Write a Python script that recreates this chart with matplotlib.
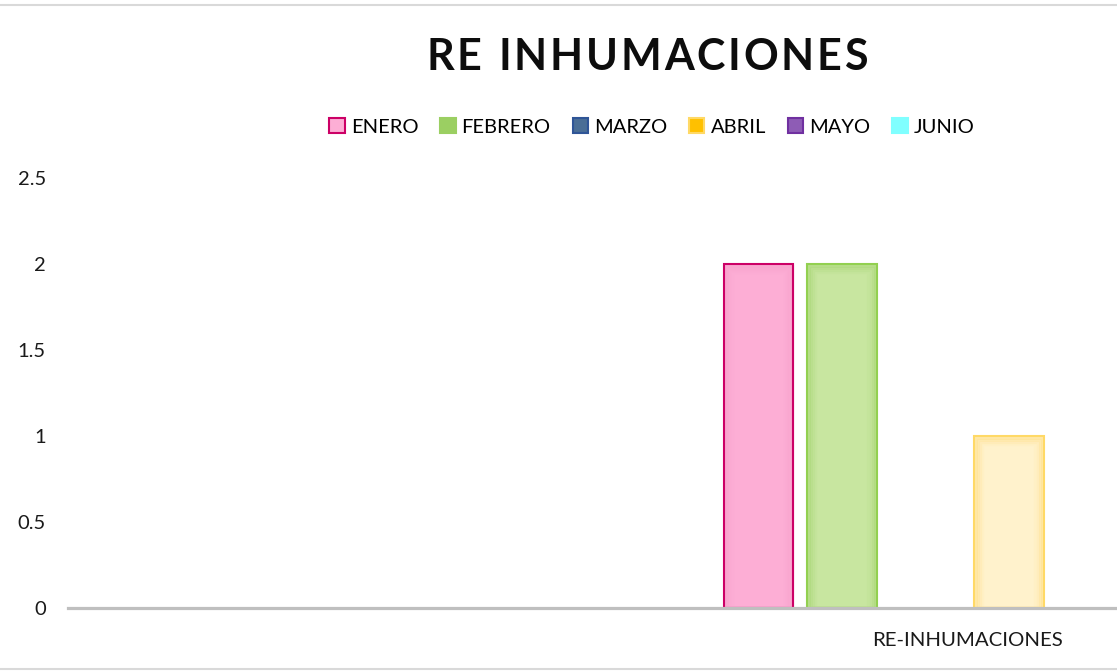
import matplotlib
matplotlib.use("Agg")
import matplotlib.pyplot as plt
from matplotlib.patches import Patch
from matplotlib.lines import Line2D

categories = ["RE-INHUMACIONES"]
series = ["ENERO", "FEBRERO", "MARZO", "ABRIL", "MAYO", "JUNIO"]
values = [[2], [2], [0], [1], [0], [0]]
title = "RE INHUMACIONES"
yticks = [0, 0.5, 1, 1.5, 2, 2.5]

bar_face = ["#FDAED5", "#C8E6A0", "#4A6E96", "#FFF2CC", "#8E5CB5", "#80FFFF"]
bar_glow = ["#F9A2CC", "#A9D878", "#3A5E86", "#FFE08A", "#7E4CA5", "#60F0F0"]
bar_edge = ["#CC0066", "#92D050", "#2F5597", "#FFD966", "#7030A0", "#66F0F0"]
leg_face = ["#FDAED5", "#9BCF62", "#4A6E96", "#FFC000", "#8E5CB5", "#80FFFF"]
leg_edge = ["#CC0066", "#9BCF62", "#2F5597", "#FFD966", "#7030A0", "#80FFFF"]

plt.rcParams['font.family'] = ['Lato', 'DejaVu Sans']

W, H = 1117, 671
fig = plt.figure(figsize=(W / 100, H / 100), dpi=100)

left, right = 68, 1866
y0, ytop = 608, 178
ax = fig.add_axes([left / W, (H - y0) / H, (right - left) / W, (y0 - ytop) / H])

step = 83.5 / (right - left)
width = 69.5 / (right - left)
n = len(series)
for i, s in enumerate(series):
    xs = [c + (i - (n - 1) / 2) * step for c in range(len(categories))]
    pos = [(x, v) for x, v in zip(xs, values[i]) if v > 0]
    if not pos:
        continue
    px = [p[0] for p in pos]
    pv = [p[1] for p in pos]
    ax.bar(px, pv, width=width, color=bar_face[i], edgecolor="none", zorder=2)
    # soft inner glow
    for k, a in enumerate([0.55, 0.35, 0.2, 0.1]):
        inset_x = (1.5 + 2.2 * k) / (right - left)
        inset_y = (1.5 + 2.2 * k) * 2.5 / (y0 - ytop)
        hs = [v - inset_y for v in pv]
        ax.bar(px, hs, width=width - 2 * inset_x, fill=False, edgecolor=bar_glow[i],
               linewidth=2.4, alpha=a, zorder=2)
    ax.bar(px, pv, width=width, fill=False, edgecolor=bar_edge[i],
           linewidth=1.5, zorder=3)

ax.set_xlim(-0.5, len(categories) - 0.5)
ax.set_ylim(0, 2.5)
ax.set_yticks(yticks)
ax.set_yticklabels([f"{v:g}" for v in yticks], fontsize=14.5, color="#1a1a1a")
ax.set_xticks(range(len(categories)))
ax.set_xticklabels(categories, fontsize=14.7, color="#1a1a1a")
ax.tick_params(axis='both', length=0)
ax.tick_params(axis='y', pad=16)
ax.tick_params(axis='x', pad=17)
for side in ["top", "right", "left"]:
    ax.spines[side].set_visible(False)
ax.spines["bottom"].set_color("#BFBFBF")
ax.spines["bottom"].set_linewidth(2.3)
ax.spines["bottom"].set_zorder(4)

# title with letter spacing: place characters one by one
renderer = fig.canvas.get_renderer()
tx0, tx1, ty = 426, 868, 57
chars = list(title)
widths = []
for ch in chars:
    t = fig.text(0, 0, ch if ch != " " else "I", fontsize=31, fontweight="bold")
    bb = t.get_window_extent(renderer)
    widths.append(bb.width if ch != " " else bb.width * 0.9)
    t.remove()
gap = ((tx1 - tx0) - sum(widths)) / (len(chars) - 1)
x = tx0
for ch, w in zip(chars, widths):
    if ch != " ":
        fig.text(x / W, 1 - ty / H, ch, ha="left", va="center", fontsize=31,
                 fontweight="bold", color="#0d0d0d")
    x += w + gap

# legend
handles = [Patch(facecolor=leg_face[i], edgecolor=leg_edge[i], linewidth=1.5, label=s)
           for i, s in enumerate(series)]
fig.legend(handles=handles, loc="center", bbox_to_anchor=(652 / W, 1 - 127 / H),
           ncol=n, frameon=False, fontsize=14.5, handlelength=0.75, handleheight=0.75,
           handletextpad=0.3, columnspacing=1.1, borderaxespad=0)

fig.add_artist(Line2D([0, 1], [1 - 5 / H, 1 - 5 / H], color="#D9D9D9", linewidth=1.5,
                      transform=fig.transFigure))
fig.add_artist(Line2D([0, 1], [1 - 669 / H, 1 - 669 / H], color="#D9D9D9", linewidth=1.5,
                      transform=fig.transFigure))

fig.savefig("out.png", dpi=100)
